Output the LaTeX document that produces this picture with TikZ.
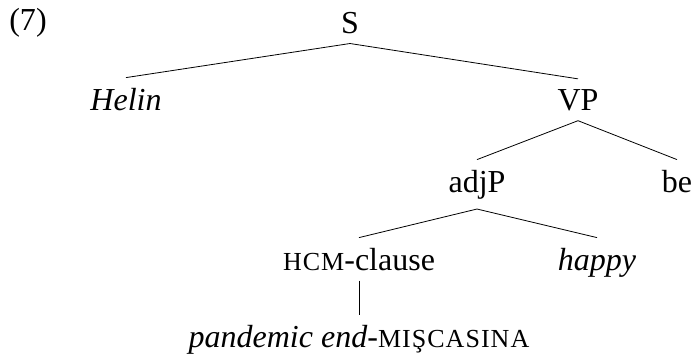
\documentclass[tikz,border=0pt]{standalone}
\usepackage{fontspec}
\setmainfont{Liberation Serif}
\newfontfamily\capsfont[LetterSpace=4]{Liberation Serif}
\newcommand{\smcaps}[1]{{\capsfont\fontsize{26}{30}\selectfont #1}}

\begin{document}
\begin{tikzpicture}[x=1pt,y=-1pt,
   every node/.style={font=\fontsize{32}{38}\selectfont,anchor=base,inner xsep=0pt,inner ysep=10pt},
   branch/.style={line width=0.8pt}]
   \useasboundingbox (0,0) rectangle (695,360);
   \node (ex) at (28,30) {(7)};
   \node (S) at (350,33) {S};
   \node (helin) at (126,110) {\textit{Helin}};
   \node (VP) at (578,110) {VP};
   \node (adjP) at (477,192) {adjP};
   \node (be) at (677,192) {be};
   \node (hcm) at (359,270) {\smcaps{HCM}-clause};
   \node (happy) at (597,270) {\textit{happy}};
   \node (mis) at (359,347) {\textit{pandemic end}-\smcaps{MIŞCASINA}};
   % branches
   \draw[branch] (S.south) -- (helin.north);
   \draw[branch] (S.south) -- (VP.north);
   \draw[branch] (VP.south) -- (adjP.north);
   \draw[branch] (VP.south) -- (be.north);
   \draw[branch] (adjP.south) -- (hcm.north);
   \draw[branch] (adjP.south) -- (happy.north);
   \draw[branch] (hcm.south) -- (mis.north);
\end{tikzpicture}
\end{document}
